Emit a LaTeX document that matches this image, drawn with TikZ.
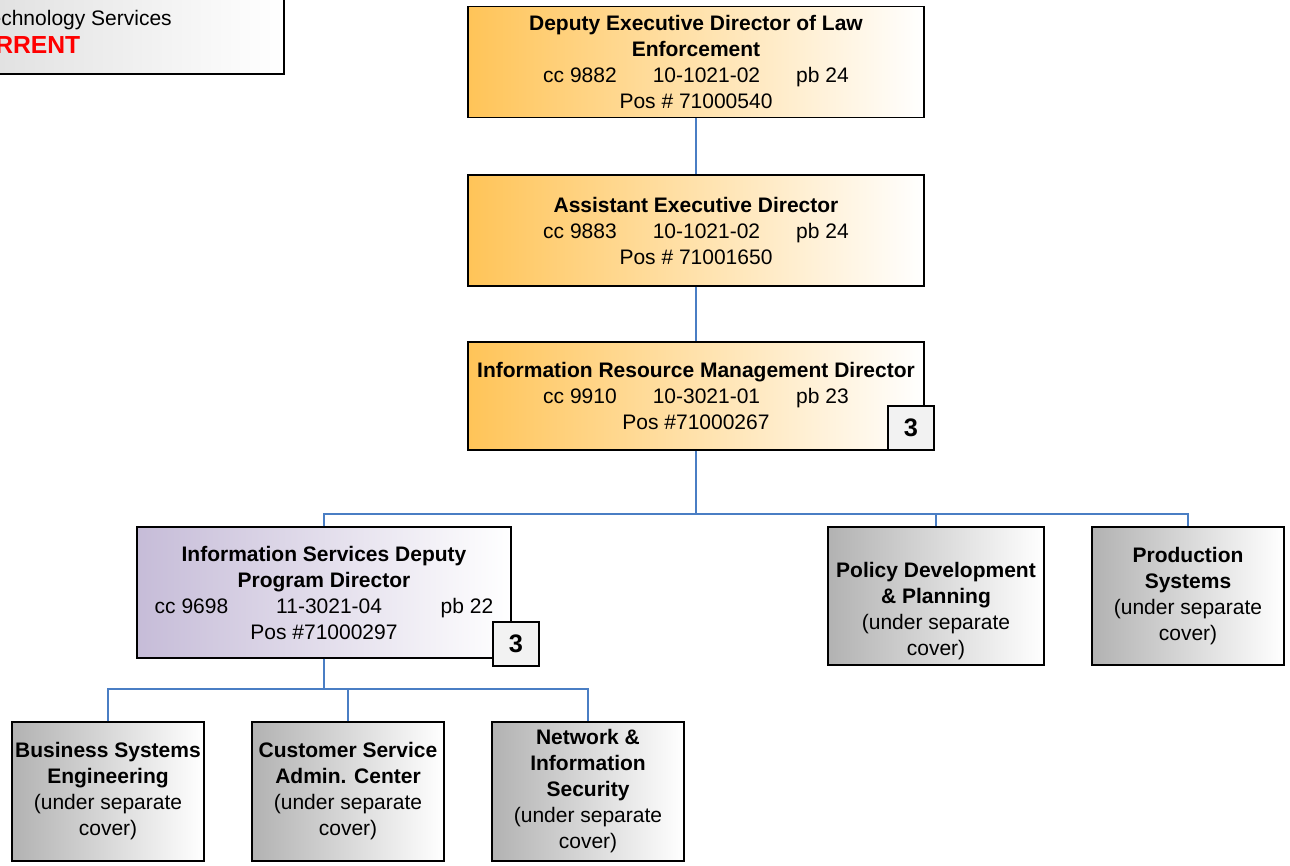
\documentclass[tikz,border=0pt]{standalone}
\usepackage{fontspec}
\setmainfont{Liberation Sans}
\usepackage{xcolor}
\usepackage{tikz}

\definecolor{mgrorange}{RGB}{255,196,88}
\definecolor{mgrlilac}{RGB}{198,188,216}
\definecolor{unitgray}{RGB}{178,178,178}
\definecolor{badgegray}{RGB}{242,242,242}
\definecolor{linkblue}{RGB}{74,126,196}

\begin{document}
\begin{tikzpicture}[x=0.75pt, y=-0.75pt,
  box/.style={draw=black, line width=1.1pt, align=center, inner sep=1pt,
    font=\fontsize{15.75}{19.5}\selectfont},
  dirbox/.style={box, left color=mgrorange, right color=white, minimum width=342pt, minimum height=83pt},
  progbox/.style={box, left color=mgrlilac, right color=white, minimum width=280.5pt, minimum height=98.25pt},
  unitbox/.style={box, left color=unitgray, right color=white, minimum width=144pt, minimum height=104.25pt},
  badgebox/.style={box, fill=badgegray, line width=1.5pt, minimum width=35pt, minimum height=33pt,
    font=\fontsize{19}{22}\selectfont\bfseries},
  orgline/.style={draw=linkblue, line width=1.1pt}]

  \useasboundingbox (0,0) rectangle (1290,866);
  \clip (0,0) rectangle (1290,866);

  % heading box in the corner
  \node[box, left color=unitgray!70, right color=white, minimum width=396pt, minimum height=100.5pt] (head) at (20,7) {};
  \node[font=\fontsize{15.75}{21.5}\selectfont, align=center] (headtext) at (20,32) {%
    Information Technology Services\\
    {\fontsize{18.5}{21.5}\selectfont\bfseries\color{red}CURRENT}};

  % director chain
  \node[dirbox] (ded) at (696,62) {%
    \textbf{Deputy Executive Director of Law}\\
    \textbf{Enforcement}\\
    cc 9882\hspace{27pt}10-1021-02\hspace{27pt}pb 24\\
    Pos \# 71000540};
  \node[dirbox] (aed) at (696,230.5) {%
    \textbf{Assistant Executive Director}\\
    cc 9883\hspace{27pt}10-1021-02\hspace{27pt}pb 24\\
    Pos \# 71001650};
  \node[dirbox, minimum height=81pt] (irm) at (696,396) {%
    \textbf{Information Resource Management Director}\\
    cc 9910\hspace{27pt}10-3021-01\hspace{27pt}pb 23\\
    Pos \#71000267};

  % second level
  \node[progbox] (isd) at (324,592.5) {%
    \textbf{Information Services Deputy}\\
    \textbf{Program Director}\\
    cc 9698\hspace{36pt}11-3021-04\hspace{44pt}pb 22\\
    Pos \#71000297};
  \node[unitbox, minimum width=162pt, minimum height=103.5pt] (pdp) at (936,596) {%
    \rule{0pt}{33.5pt}\textbf{Policy Development}\\
    \textbf{\& Planning}\\
    (under separate\\
    cover)};
  \node[unitbox, minimum height=103.5pt] (prod) at (1188,596) {%
    \textbf{Production}\\
    \textbf{Systems}\\
    (under separate\\
    cover)};

  % third level
  \node[unitbox] (bse) at (108,791.5) {%
    \textbf{Business Systems}\\
    \textbf{Engineering}\\
    (under separate\\
    cover)};
  \node[unitbox] (csac) at (348,791.5) {%
    \textbf{Customer Service}\\
    \textbf{Admin. Center}\\
    (under separate\\
    cover)};
  \node[unitbox] (nis) at (588,791.5) {%
    \textbf{Network \&}\\
    \textbf{Information}\\
    \textbf{Security}\\
    (under separate\\
    cover)};

  % connectors
  \coordinate (busA) at (696,514);
  \coordinate (busB) at (324,689);
  \draw[orgline] (ded) -- (aed);
  \draw[orgline] (aed) -- (irm);
  \draw[orgline] (irm) -- (busA);
  \draw[orgline] (isd.north) |- (busA) -| (prod.north);
  \draw[orgline] (pdp.north) |- (busA);
  \draw[orgline] (isd) -- (busB);
  \draw[orgline] (bse.north) |- (busB) -| (nis.north);
  \draw[orgline] (csac.north) |- (busB);

  % span badges
  \node[badgebox] (irmspan) at (911,428) {3};
  \node[badgebox] (isdspan) at (516,643.5) {3};
\end{tikzpicture}
\end{document}
